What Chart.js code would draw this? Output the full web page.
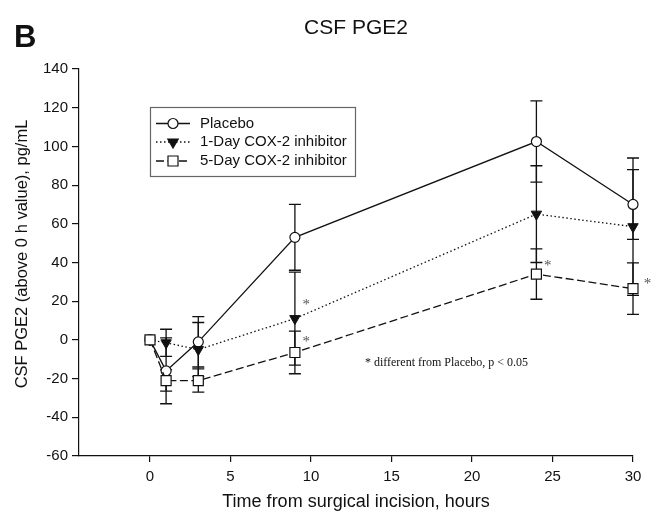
<!DOCTYPE html>
<html>
<head>
<meta charset="utf-8">
<script src="https://cdn.jsdelivr.net/npm/chart.js@4.4.0/dist/chart.umd.min.js"></script>
<style>
html,body{margin:0;padding:0;background:#fff;}
#wrap{width:657px;height:515px;position:relative;}
</style>
</head>
<body>
<div id="wrap"><canvas id="c" width="657" height="515"></canvas></div>
<script>
// ---- data ----
const hours = [0, 1, 3, 9, 24, 30];
const placebo = [0, -16, -1, 53, 102.5, 70];
const placeboErr = [0, 17, 13, 17, 21, 18];
const oneDay = [0, -1.5, -5, 11, 65, 58.5];
const oneDayErr = [0, 7, 14, 24, 25, 35.5];
const fiveDay = [0, -21, -21, -6.5, 34, 26.5];
const fiveDayErr = [0, 5.5, 6, 11, 13, 13.3];
const seriesNames = ['Placebo', '1-Day COX-2 inhibitor', '5-Day COX-2 inhibitor'];
const sigMarksX = [9.7, 9.7, 24.7, 30.9];
const sigMarksY = [19.7, 0.3, 39.6, 30.4];
const footnote = '* different from Placebo, p < 0.05';
const footnoteAt = [13.35, -12.1];
const yTitle = 'CSF PGE2 (above 0 h value), pg/mL';
const xTitle = 'Time from surgical incision, hours';

const FONT = "'Liberation Sans', Arial, Helvetica, sans-serif";
const SERIF = "'Liberation Serif', 'Times New Roman', serif";
const INK = '#111';

const pts = ys => hours.map((h, i) => ({x: h, y: ys[i]}));

const errorBars = {
  id: 'errorBars',
  beforeDatasetsDraw(chart) {
    const {ctx, scales: {x, y}} = chart;
    ctx.save();
    ctx.strokeStyle = INK;
    ctx.lineWidth = 1.3;
    chart.data.datasets.forEach(ds => {
      ds.data.forEach((p, i) => {
        const e = ds.errs[i];
        if (!e) return;
        const px = x.getPixelForValue(p.x);
        const t = y.getPixelForValue(p.y + e);
        const b = y.getPixelForValue(p.y - e);
        const w = 6;
        ctx.beginPath();
        ctx.moveTo(px, t); ctx.lineTo(px, b);
        ctx.moveTo(px - w, t); ctx.lineTo(px + w, t);
        ctx.moveTo(px - w, b); ctx.lineTo(px + w, b);
        ctx.stroke();
      });
    });
    ctx.restore();
  }
};

function marker(ctx, style, cx, cy) {
  ctx.save();
  ctx.lineWidth = 1.2;
  ctx.strokeStyle = INK;
  ctx.setLineDash([]);
  ctx.beginPath();
  if (style === 'circle') {
    ctx.arc(cx, cy, 5, 0, Math.PI * 2);
    ctx.fillStyle = '#fff'; ctx.fill(); ctx.stroke();
  } else if (style === 'triangle') {
    const r = 6;
    ctx.moveTo(cx, cy + r);
    ctx.lineTo(cx - r * 0.866, cy - r / 2);
    ctx.lineTo(cx + r * 0.866, cy - r / 2);
    ctx.closePath();
    ctx.fillStyle = INK; ctx.fill(); ctx.stroke();
  } else {
    ctx.rect(cx - 5, cy - 5, 10, 10);
    ctx.fillStyle = '#fff'; ctx.fill(); ctx.stroke();
  }
  ctx.restore();
}

const annotations = {
  id: 'annotations',
  afterDraw(chart) {
    const {ctx, chartArea, scales: {x, y}} = chart;
    ctx.save();
    // panel letter and title
    ctx.fillStyle = INK;
    ctx.font = 'bold 31px ' + FONT;
    ctx.textAlign = 'left';
    ctx.textBaseline = 'alphabetic';
    ctx.fillText('B', 14, 47);
    ctx.font = '21px ' + FONT;
    ctx.textAlign = 'center';
    ctx.textBaseline = 'middle';
    ctx.fillText('CSF PGE2', (chartArea.left + chartArea.right) / 2, 28);

    // y axis title
    ctx.save();
    ctx.translate(22, 254);
    ctx.rotate(-Math.PI / 2);
    ctx.font = '16.5px ' + FONT;
    ctx.fillText(yTitle, 0, 0);
    ctx.restore();

    // legend
    const bx = 150.5, by = 107.5, bw = 205, bh = 69;
    ctx.strokeStyle = '#666';
    ctx.lineWidth = 1.2;
    ctx.strokeRect(bx, by, bw, bh);
    const rows = [123.5, 142, 161];
    const styles = ['circle', 'triangle', 'rect'];
    const dashes = [[], [1.5, 2.5], [8, 3.5]];
    chart.data.datasets.forEach((ds, i) => {
      ctx.save();
      ctx.strokeStyle = INK;
      ctx.lineWidth = 1.3;
      ctx.setLineDash(dashes[i]);
      ctx.beginPath();
      ctx.moveTo(156, rows[i]); ctx.lineTo(190, rows[i]);
      ctx.stroke();
      ctx.restore();
      marker(ctx, styles[i], 173, rows[i]);
      ctx.fillStyle = INK;
      ctx.font = '15px ' + FONT;
      ctx.textAlign = 'left';
      ctx.textBaseline = 'middle';
      ctx.fillText(ds.label, 200, rows[i]);
    });

    // significance marks
    ctx.fillStyle = '#555';
    ctx.font = '15px ' + SERIF;
    ctx.textAlign = 'center';
    ctx.textBaseline = 'middle';
    sigMarksX.forEach((sx, i) => {
      ctx.fillText('*', x.getPixelForValue(sx), y.getPixelForValue(sigMarksY[i]) + 3);
    });

    // footnote
    ctx.fillStyle = INK;
    ctx.font = '12px ' + SERIF;
    ctx.textAlign = 'left';
    ctx.fillText(footnote, x.getPixelForValue(footnoteAt[0]), y.getPixelForValue(footnoteAt[1]));
    ctx.restore();
  }
};

const tickFont = {family: FONT, size: 15};
const titleFont = {family: FONT, size: 18};

new Chart(document.getElementById('c'), {
  type: 'line',
  data: {
    datasets: [
      {label: seriesNames[0], data: pts(placebo), errs: placeboErr,
       borderColor: INK, borderWidth: 1.3, pointStyle: 'circle', pointRadius: 5,
       pointBackgroundColor: '#fff', pointBorderColor: INK, pointBorderWidth: 1.2, order: 2, clip: false},
      {label: seriesNames[1], data: pts(oneDay), errs: oneDayErr,
       borderColor: INK, borderWidth: 1.3, borderDash: [1.5, 2.5], pointStyle: 'triangle', pointRotation: 180, pointRadius: 6,
       pointBackgroundColor: INK, pointBorderColor: INK, pointBorderWidth: 1, order: 1, clip: false},
      {label: seriesNames[2], data: pts(fiveDay), errs: fiveDayErr,
       borderColor: INK, borderWidth: 1.3, borderDash: [8, 3.5], pointStyle: 'rect', pointRadius: 7.07,
       pointBackgroundColor: '#fff', pointBorderColor: INK, pointBorderWidth: 1.2, order: 0, clip: false}
    ]
  },
  options: {
    responsive: false,
    animation: false,
    devicePixelRatio: 1,
    layout: {padding: {left: 0, right: 24, top: 69, bottom: 0}},
    plugins: {legend: {display: false}, tooltip: {enabled: false}},
    elements: {line: {tension: 0}},
    scales: {
      x: {
        type: 'linear', min: -4.41, max: 30, position: 'bottom',
        ticks: {stepSize: 5, includeBounds: false, color: INK, font: tickFont, padding: 6, maxRotation: 0},
        grid: {drawOnChartArea: false, drawTicks: true, tickLength: 6, color: INK, lineWidth: 1.2},
        border: {display: true, color: INK, width: 1.2},
        title: {display: true, text: xTitle, color: INK, font: titleFont, padding: {top: 0, bottom: 2}},
        afterFit(s) { s.height = 59; }
      },
      y: {
        type: 'linear', min: -60, max: 140,
        ticks: {stepSize: 20, color: INK, font: tickFont, padding: 4},
        grid: {drawOnChartArea: false, drawTicks: true, tickLength: 7, color: INK, lineWidth: 1.2},
        border: {display: true, color: INK, width: 1.2},
        title: {display: false},
        afterFit(s) { s.width = 79; }
      }
    }
  },
  plugins: [errorBars, annotations]
});
</script>
</body>
</html>
